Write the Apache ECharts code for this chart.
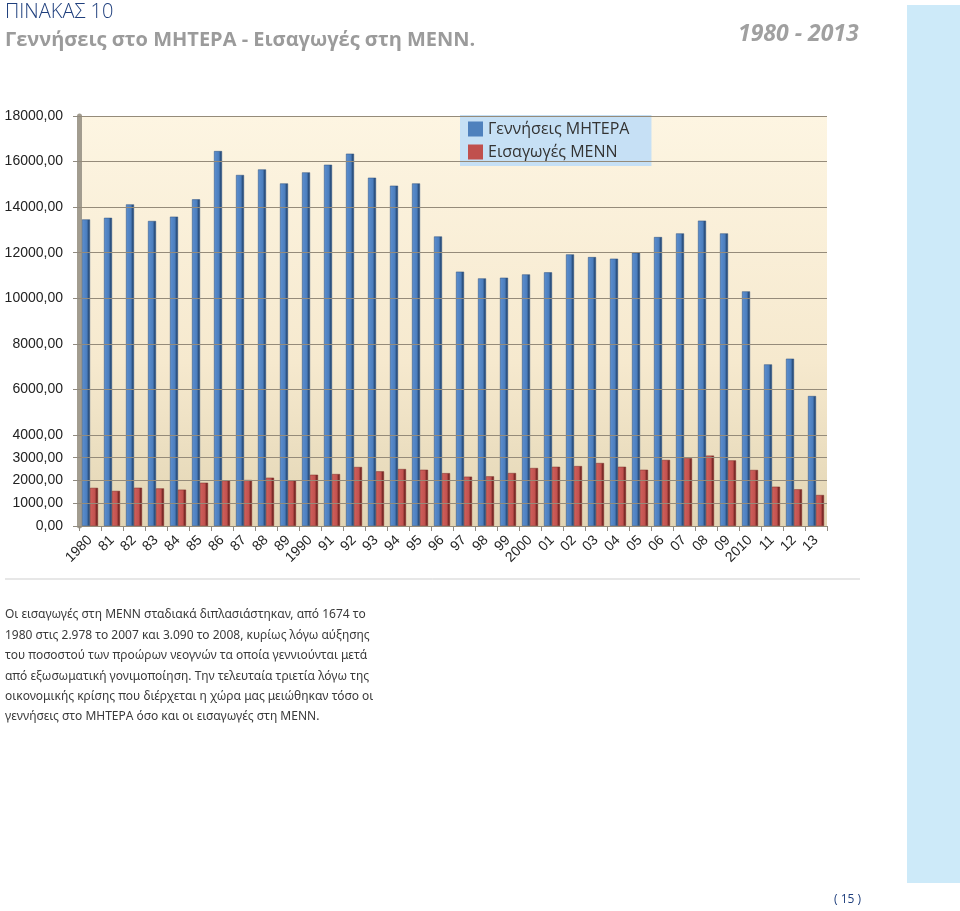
<!DOCTYPE html>
<html><head><meta charset="utf-8">
<script src="https://cdn.jsdelivr.net/npm/echarts@6/dist/echarts.min.js"></script>
<style>html,body{margin:0;padding:0;background:#fff}#c{width:960px;height:911px}</style>
</head><body><div id="c"></div>
<script>
const categories = ['1980','81','82','83','84','85','86','87','88','89','1990','91','92','93','94','95','96','97','98','99','2000','01','02','03','04','05','06','07','08','09','2010','11','12','13'];
const birthsMitera = [13460,13530,14120,13390,13580,14340,16460,15410,15655,15040,15525,15860,16345,15290,14940,15040,12710,11165,10870,10900,11045,11135,11925,11805,11735,11995,12685,12845,13405,12845,10300,7095,7345,5705];
const admissionsMenn = [1674,1540,1680,1650,1595,1900,2000,2020,2120,2000,2250,2280,2590,2400,2500,2470,2320,2165,2180,2325,2545,2600,2630,2765,2600,2470,2900,2978,3090,2880,2460,1725,1610,1360];
const yTicks = [0,1000,2000,3000,4000,6000,8000,10000,12000,14000,16000,18000];
const seriesNames = ['Γεννήσεις ΜΗΤΕΡΑ','Εισαγωγές ΜΕΝΝ'];
const bodyLines = [
 'Οι εισαγωγές στη ΜΕΝΝ σταδιακά διπλασιάστηκαν, από 1674 το',
 '1980 στις 2.978 το 2007 και 3.090 το 2008, κυρίως λόγω αύξησης',
 'του ποσοστού των προώρων νεογνών τα οποία γεννιούνται μετά',
 'από εξωσωματική γονιμοποίηση. Την τελευταία τριετία λόγω της',
 'οικονομικής κρίσης που διέρχεται η χώρα μας μειώθηκαν τόσο οι',
 'γεννήσεις στο ΜΗΤΕΡΑ όσο και οι εισαγωγές στη ΜΕΝΝ.'
];

const chart = echarts.init(document.getElementById('c'));
const G = echarts.graphic;
function grad(c0,c1,c2){
  return new G.LinearGradient(0,0,1,0,[{offset:0,color:c0},{offset:0.68,color:c1},{offset:0.7,color:c2},{offset:1,color:c2}]);
}
const graphics = [
  {type:'rect', shape:{x:907,y:5,width:53,height:878}, style:{fill:'#cdeaf9'}, z:-10},
  {type:'text', left:5, top:2, style:{text:'ΠΙΝΑΚΑΣ 10', font:'300 20px "Open Sans"', fill:'#1f3f7d'}},
  {type:'text', left:5, top:30, style:{text:'Γεννήσεις στο ΜΗΤΕΡΑ - Εισαγωγές στη ΜΕΝΝ.', font:'bold 20px "Open Sans"', fill:'#9b9b9b'}},
  {type:'text', left:738, top:23, style:{text:'1980 - 2013', font:'italic bold 23px "Open Sans"', fill:'#a0a0a0'}},
  {type:'line', shape:{x1:5,y1:579,x2:860,y2:579}, style:{stroke:'#cfcfcf', lineWidth:1}},
  {type:'text', left:834, top:894, style:{text:'( 15 )', font:'12px "Open Sans"', fill:'#1f3f7d'}}
];
bodyLines.forEach((t,i)=>{
  graphics.push({type:'text', left:5, top:609+i*20.4, style:{text:t, font:'12px "Noto Sans"', fill:'#3a3a3a'}});
});

chart.setOption({
  animation:false,
  textStyle:{fontFamily:'"Liberation Sans", Arial, sans-serif'},
  graphic: graphics,
  legend:{
    data: [
      {name:seriesNames[0], itemStyle:{color:'#4f81bd', borderWidth:0}},
      {name:seriesNames[1], itemStyle:{color:'#c0504d', borderWidth:0}}
    ],
    orient:'vertical', left:460, top:115,
    backgroundColor:'#c6e0f5', padding:[6,22,6,8], itemGap:7,
    itemWidth:15, itemHeight:15, icon:'rect',
    textStyle:{fontFamily:'"Open Sans"', fontSize:16, color:'#333'}
  },
  grid:{left:79, right:133, top:116, bottom:385, show:true, borderWidth:0,
    backgroundColor: new G.LinearGradient(0,0,0,1,[{offset:0,color:'#fdf5e2'},{offset:0.6,color:'#f6e9ce'},{offset:1,color:'#e2d5b4'}])},
  xAxis:{
    type:'category', data:categories, boundaryGap:true,
    axisLine:{lineStyle:{color:'#8f8a80', width:1}},
    axisTick:{show:true, length:5, lineStyle:{color:'#8f8a80'}},
    axisLabel:{rotate:45, interval:0, fontSize:14, color:'#222', margin:12}
  },
  yAxis:{
    type:'value', min:0, max:18000, interval:1000,
    axisLine:{show:true, lineStyle:{color:'#a29c8f', width:5}},
    axisTick:{show:true, length:6, inside:false, customValues: yTicks, lineStyle:{color:'#8f8a80'}},
    axisLabel:{customValues: yTicks, fontSize:14, color:'#222', margin:16,
      formatter: v => v.toFixed(2).replace('.', ',')},
    splitLine:{show:false}
  },
  series:[
    {type:'line', data:[], silent:true, z:1,
      markLine:{silent:true, symbol:'none', label:{show:false}, animation:false,
        lineStyle:{color:'#958b7a', width:1.2, type:'solid'},
        data: yTicks.map(v=>({yAxis:v}))}},
    {name:seriesNames[0], type:'bar', data:birthsMitera, barWidth:8, barGap:'0%', z:3,
      itemStyle:{color: grad('#5c8fd0','#4a7cbb','#2c5282'), borderColor:'#2c4f7c', borderWidth:0.5}},
    {name:seriesNames[1], type:'bar', data:admissionsMenn, barWidth:8, z:3,
      itemStyle:{color: grad('#d0605c','#c0504d','#7e2b28'), borderColor:'#7a2a27', borderWidth:0.5}}
  ]
});
</script></body></html>
